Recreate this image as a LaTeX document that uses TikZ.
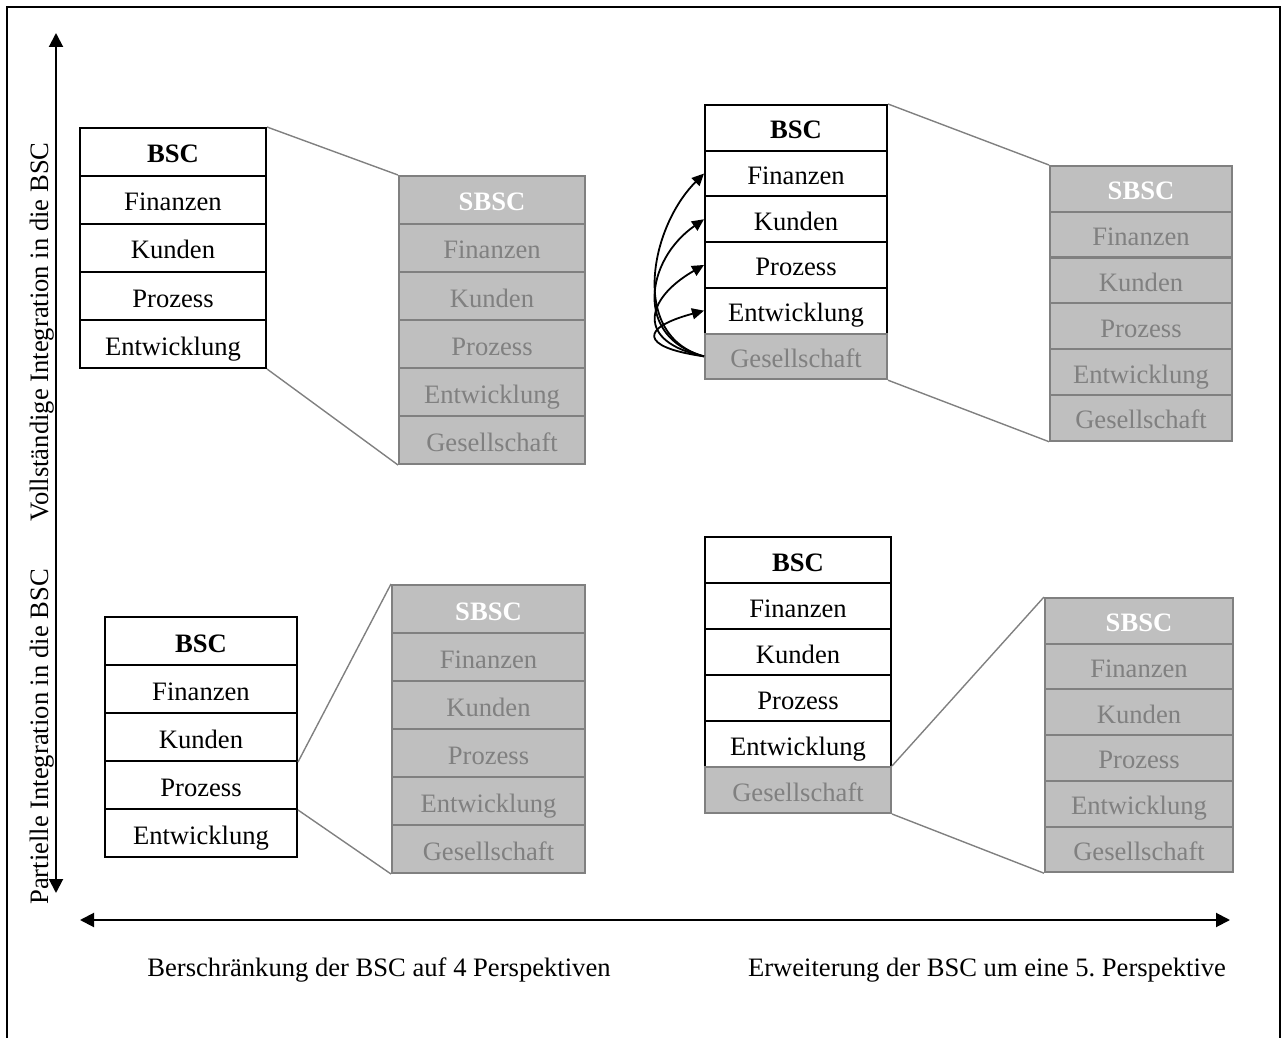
\documentclass[tikz,border=0pt]{standalone}
\usepackage{fontspec}
\setmainfont{Liberation Serif}
\usetikzlibrary{arrows.meta}
\frenchspacing
\begin{document}
\begin{tikzpicture}[x=0.5pt,y=-0.5pt,
  font=\fontsize{13.3}{16}\selectfont,
  cellbase/.style={anchor=north west,inner sep=0pt,line width=1pt,text height=11pt,text depth=0pt},
  bsccell/.style={cellbase,draw=black,fill=white,text=black},
  bschead/.style={bsccell,font=\fontsize{13.3}{16}\selectfont\bfseries},
  sbsccell/.style={cellbase,draw=black!50,fill=black!25,text=black!50},
  sbschead/.style={sbsccell,text=white,font=\fontsize{13.3}{16}\selectfont\bfseries},
  zoomline/.style={draw=black!50,line width=0.7pt},
  axis/.style={line width=1pt,{Triangle[length=7pt,width=7pt]}-{Triangle[length=7pt,width=7pt]}},
  link/.style={line width=0.9pt,-{Triangle[length=6pt,width=5.5pt]}},
  axislabel/.style={inner sep=0pt}
]
\useasboundingbox (0,0) rectangle (1287,1038);
% frame, open at the bottom edge
\draw[line width=1pt] (7,1050) -- (7,7) -- (1280,7) -- (1280,1050);

% axes
\coordinate (vtop) at (56,33);
\coordinate (vbot) at (56,893);
\coordinate (hleft) at (80,920);
\coordinate (hright) at (1230,920);
\draw[axis] (vbot) -- (vtop);
\draw[axis] (hleft) -- (hright);

\node[axislabel,rotate=90] (lblfull) at (42,332) {Vollständige Integration in die BSC};
\node[axislabel,rotate=90] (lblpart) at (42,737) {Partielle Integration in die BSC};
\node[axislabel] (lblfour) at (379,970) {Berschränkung der BSC auf 4 Perspektiven};
\node[axislabel] (lblfive) at (987,970) {Erweiterung der BSC um eine 5. Perspektive};

% ---------- top left: BSC and SBSC side by side ----------
\begin{scope}[every node/.append style={minimum width=93pt,minimum height=24pt}]
\node[bschead] (tl0) at (79,127) {BSC};
\foreach \t [count=\i] in {Finanzen,Kunden,Prozess,Entwicklung}
  \node[bsccell] (tl\i) at (79,127+48*\i) {\t};
\node[sbschead] (ts0) at (398,175) {SBSC};
\foreach \t [count=\i] in {Finanzen,Kunden,Prozess,Entwicklung,Gesellschaft}
  \node[sbsccell] (ts\i) at (398,175+48*\i) {\t};
\end{scope}
\draw[zoomline] (tl0.north east) -- (ts0.north west);
\draw[zoomline] (tl4.south east) -- (ts5.south west);

% ---------- top right: full integration ----------
\begin{scope}[every node/.append style={minimum width=91pt,minimum height=22.85pt}]
\node[bschead] (tr0) at (704,104) {BSC};
\foreach \t [count=\i] in {Finanzen,Kunden,Prozess,Entwicklung}
  \node[bsccell] (tr\i) at (704,104+45.7*\i) {\t};
\node[sbsccell] (tr5) at (704,104+45.7*5) {Gesellschaft};
\node[sbschead] (trs0) at (1049,165) {SBSC};
\foreach \t [count=\i] in {Finanzen,Kunden,Prozess,Entwicklung,Gesellschaft}
  \node[sbsccell] (trs\i) at (1049,165+45.8*\i) {\t};
\end{scope}
\draw[zoomline] (tr0.north east) -- (trs0.north west);
\draw[zoomline] (tr5.south east) -- (trs5.south west);
% society perspective feeding the four classic perspectives
\draw[link] (tr5.west) to[out=165,in=225,looseness=1.08] (tr1.west);
\draw[link] (tr5.west) to[out=165,in=215,looseness=1.35] (tr2.west);
\draw[link] (tr5.west) to[out=168,in=210,looseness=1.95] (tr3.west);
\draw[link] (tr5.west) to[out=172,in=195,looseness=3.7] (tr4.west);

% ---------- bottom left: partial, four perspectives ----------
\begin{scope}[every node/.append style={minimum height=24pt}]
\node[bschead,minimum width=96pt] (bl0) at (104,616) {BSC};
\foreach \t [count=\i] in {Finanzen,Kunden,Prozess,Entwicklung}
  \node[bsccell,minimum width=96pt] (bl\i) at (104,616+48*\i) {\t};
\node[sbschead,minimum width=96.5pt] (bls0) at (391,584) {SBSC};
\foreach \t [count=\i] in {Finanzen,Kunden,Prozess,Entwicklung,Gesellschaft}
  \node[sbsccell,minimum width=96.5pt] (bls\i) at (391,584+48*\i) {\t};
\end{scope}
\draw[zoomline] (bl2.south east) -- (bls0.north west);
\draw[zoomline] (bl3.south east) -- (bls5.south west);

% ---------- bottom right: partial, fifth perspective ----------
\begin{scope}[every node/.append style={minimum height=23pt}]
\node[bschead,minimum width=93pt] (br0) at (704,536) {BSC};
\foreach \t [count=\i] in {Finanzen,Kunden,Prozess,Entwicklung}
  \node[bsccell,minimum width=93pt] (br\i) at (704,536+46*\i) {\t};
\node[sbsccell,minimum width=93pt] (br5) at (704,536+46*5) {Gesellschaft};
\end{scope}
\begin{scope}[every node/.append style={minimum width=94pt,minimum height=22.85pt}]
\node[sbschead] (brs0) at (1044,597) {SBSC};
\foreach \t [count=\i] in {Finanzen,Kunden,Prozess,Entwicklung,Gesellschaft}
  \node[sbsccell] (brs\i) at (1044,597+45.7*\i) {\t};
\end{scope}
\draw[zoomline] (br5.north east) -- (brs0.north west);
\draw[zoomline] (br5.south east) -- (brs5.south west);
\end{tikzpicture}
\end{document}
